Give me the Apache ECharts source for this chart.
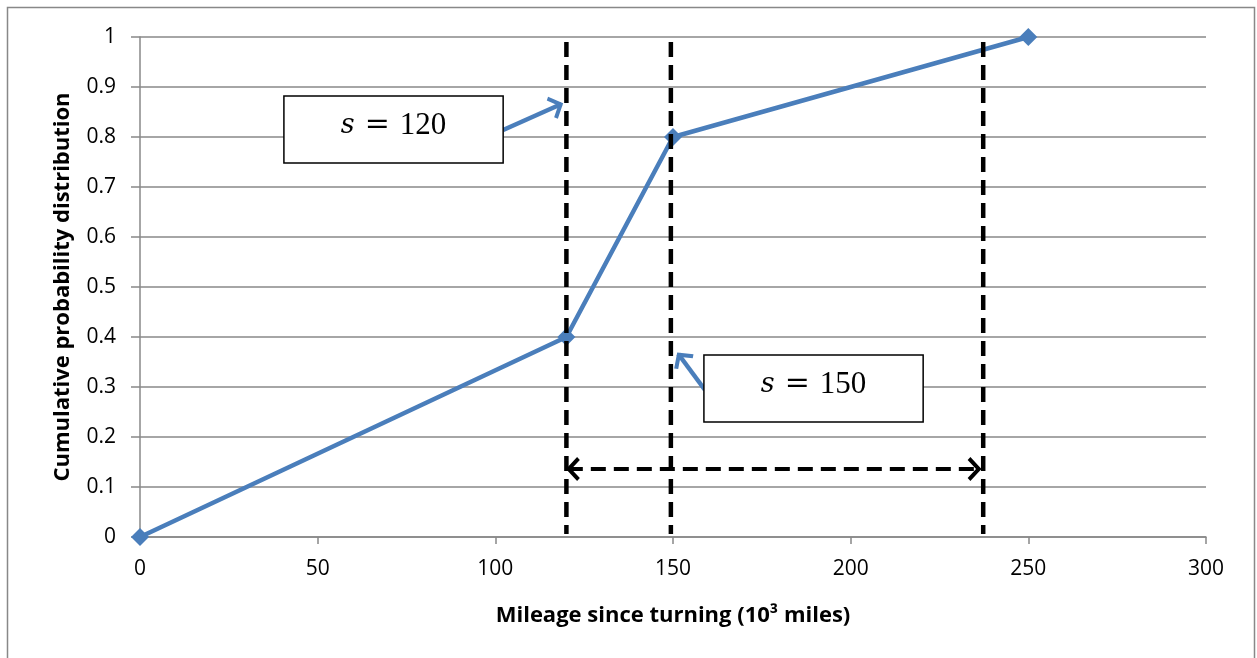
<!DOCTYPE html>
<html>
<head>
<meta charset="utf-8">
<script src="https://cdn.jsdelivr.net/npm/echarts@6/dist/echarts.min.js"></script>
<style>html,body{margin:0;padding:0;background:#fff;}#c{width:1257px;height:658px;}</style>
</head>
<body>
<div id="c"></div>
<script>
// ---- data ----
var cdfPoints = [[0, 0], [120, 0.4], [150, 0.8], [250, 1]];
var xTicks = { min: 0, max: 300, interval: 50 };
var yTicks = { min: 0, max: 1, interval: 0.1 };
var verticalLines = [
  [[120, 0.99], [120, 0.006]],
  [[149.4, 0.99], [149.4, 0.006]],
  [[237.3, 0.99], [237.3, 0.006]]
];
var rangeArrow = [[120.4, 0.136], [236.3, 0.136]];
var calloutArrows = [
  [[102.2, 0.814], [118.6, 0.866]],
  [[159.0, 0.294], [151.5, 0.366]]
];
var boxes = [[40.5, 0.882, 102.2, 0.748], [158.7, 0.364, 220.4, 0.23]];
var boxLabels = ['120', '150'];

var BLUE = '#4A7EBB';
var FONT = '"Open Sans", sans-serif';
// open chevron whose tip sits at the centre of its (square) box
var chevron = 'path://M11,10 L22,21 L19.3,23.7 L11,15.4 L2.7,23.7 L0,21 Z M11,0 L11.02,0 L11,0.02 Z';

var chart = echarts.init(document.getElementById('c'));
var series = [];
series.push({
  type: 'line', data: cdfPoints, symbol: 'diamond', symbolSize: 18,
  lineStyle: { color: BLUE, width: 4.5 }, itemStyle: { color: BLUE },
  z: 2, silent: true, animation: false
});
verticalLines.forEach(function (seg) {
  series.push({
    type: 'line', data: seg, symbol: 'none', z: 5, silent: true, animation: false,
    lineStyle: { color: '#000', width: 4.5, type: [15, 8] }
  });
});
series.push({
  type: 'custom', z: 6, silent: true, animation: false, clip: false,
  data: boxes,
  renderItem: function (params, api) {
    var p1 = api.coord([api.value(0), api.value(1)]);
    var p2 = api.coord([api.value(2), api.value(3)]);
    return {
      type: 'group', children: [
        { type: 'rect', shape: { x: p1[0], y: p1[1], width: p2[0] - p1[0], height: p2[1] - p1[1] },
          style: { fill: '#fff', stroke: '#000', lineWidth: 1.5 } },
        { type: 'text', style: {
            x: (p1[0] + p2[0]) / 2, y: (p1[1] + p2[1]) / 2 - 4, align: 'center', verticalAlign: 'middle',
            text: '{i|s}{e|=}{n|' + boxLabels[params.dataIndex] + '}',
            rich: {
              i: { fontFamily: '"DejaVu Serif", serif', fontStyle: 'italic', fontSize: 27, fill: '#000' },
              e: { fontFamily: '"DejaVu Serif", serif', fontSize: 30, fill: '#000', padding: [0, 10, 0, 10] },
              n: { fontFamily: '"Liberation Serif", serif', fontSize: 31, fill: '#000' }
            }
        } }
      ]
    };
  }
});
series.push({
  type: 'line', data: [], z: 7, silent: true, animation: false,
  markLine: {
    silent: true, animation: false, symbol: ['none', chevron], symbolSize: 24,
    label: { show: false },
    lineStyle: { color: BLUE, width: 4.5, type: 'solid' },
    data: calloutArrows.map(function (a) { return [{ coord: a[0] }, { coord: a[1] }]; })
  }
});
series.push({
  type: 'line', data: [], z: 7, silent: true, animation: false,
  markLine: {
    silent: true, animation: false, symbol: [chevron, chevron], symbolSize: 24,
    label: { show: false },
    lineStyle: { color: '#000', width: 4, type: [15, 8] },
    data: [[{ coord: rangeArrow[0] }, { coord: rangeArrow[1] }]]
  }
});

chart.setOption({
  animation: false,
  backgroundColor: '#fff',
  grid: { left: 140, right: 51, top: 37, bottom: 121, containLabel: false },
  xAxis: {
    type: 'value', min: xTicks.min, max: xTicks.max, interval: xTicks.interval,
    name: 'Mileage since turning (10³ miles)', nameLocation: 'middle', nameGap: 68,
    nameTextStyle: { fontFamily: FONT, fontWeight: 'bold', fontSize: 22, color: '#000' },
    axisLine: { lineStyle: { color: '#888', width: 1.5 } },
    axisTick: { show: true, length: 7, lineStyle: { color: '#888', width: 1.5 } },
    axisLabel: { fontFamily: FONT, fontSize: 21, color: '#000', margin: 22 },
    splitLine: { show: false }
  },
  yAxis: {
    type: 'value', min: yTicks.min, max: yTicks.max, interval: yTicks.interval,
    name: 'Cumulative probability distribution', nameLocation: 'middle', nameGap: 66, nameRotate: 90,
    nameTextStyle: { fontFamily: FONT, fontWeight: 'bold', fontSize: 22, color: '#000' },
    axisLine: { show: true, lineStyle: { color: '#888', width: 1.5 } },
    axisTick: { show: true, length: 9, lineStyle: { color: '#888', width: 1.5 } },
    axisLabel: { fontFamily: FONT, fontSize: 21, color: '#000', margin: 24 },
    splitLine: { show: true, lineStyle: { color: '#888', width: 1.5 } }
  },
  graphic: [{
    type: 'rect', shape: { x: 7.5, y: 7.5, width: 1247, height: 680 },
    style: { fill: null, stroke: '#888', lineWidth: 1.5 }, silent: true, z: -1
  }],
  series: series
});
</script>
</body>
</html>
